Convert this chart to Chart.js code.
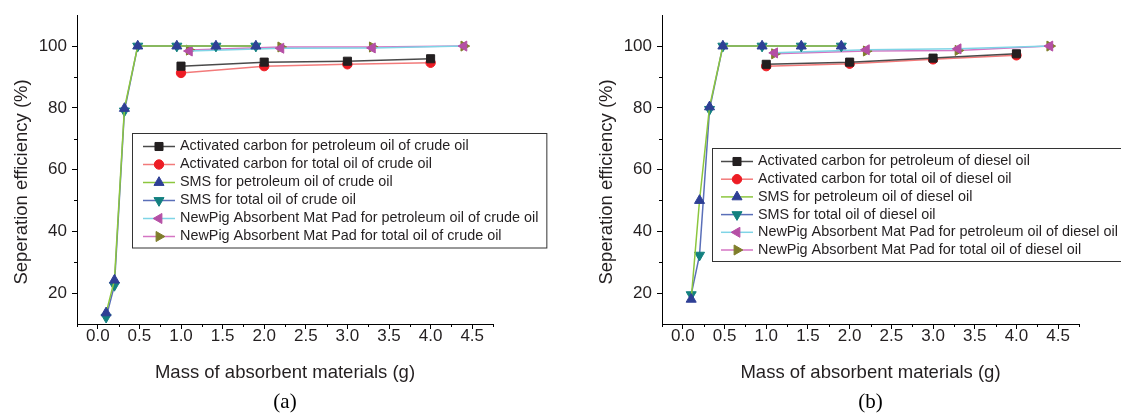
<!DOCTYPE html>
<html>
<head>
<meta charset="utf-8">
<script src="https://cdn.jsdelivr.net/npm/chart.js@4.4.0/dist/chart.umd.min.js"></script>
<style>
body { margin: 0; background: #fff; width: 1121px; height: 415px; overflow: hidden; position: relative; }
canvas { position: absolute; top: 0; }
#chartA { left: 0; }
#chartB { left: 585px; }
</style>
</head>
<body>
<canvas id="chartA" width="585" height="415"></canvas>
<canvas id="chartB" width="536" height="415"></canvas>
<script>
// axis ticks
const xTicks = [0, 0.5, 1, 1.5, 2, 2.5, 3, 3.5, 4, 4.5];
const xMinorTicks = [-0.25, 0.25, 0.75, 1.25, 1.75, 2.25, 2.75, 3.25, 3.75, 4.25, 4.75];
const yTicks = [20, 40, 60, 80, 100];
const yMinorTicks = [30, 50, 70, 90];

// masses (g)
const carbonMass = [1, 2, 3, 4];
const smsMass = [0.1, 0.2, 0.32, 0.48, 0.95, 1.42, 1.9];
const padMass = [1.1, 2.2, 3.3, 4.4];

// (a) crude oil
const carbonPetroA = [93.5, 94.8, 95.1, 95.9];
const carbonTotalA = [91.3, 93.5, 94.1, 94.6];
const smsPetroA = [13.6, 24.2, 79.8, 100, 100, 100, 100];
const smsTotalA = [12.2, 22.5, 79.0, 100, 100, 100, 100];
const padPetroA = [98.4, 99.3, 99.4, 100];
const padTotalA = [98.7, 99.7, 99.7, 100];
const labelsA = [
  'Activated carbon for petroleum oil of crude oil',
  'Activated carbon for total oil of crude oil',
  'SMS for petroleum oil of crude oil',
  'SMS for total oil of crude oil',
  'NewPig Absorbent Mat Pad for petroleum oil of crude oil',
  'NewPig Absorbent Mat Pad for total oil of crude oil'
];

// (b) diesel oil
const carbonPetroB = [94.1, 94.8, 96.1, 97.5];
const carbonTotalB = [93.5, 94.3, 95.7, 97.0];
const smsPetroB = [18.0, 50.0, 80.3, 100, 100, 100, 100];
const smsTotalB = [19.5, 32.3, 79.5, 100, 100, 100, 100];
const padPetroB = [97.8, 98.8, 99.1, 100];
const padTotalB = [97.5, 98.4, 98.6, 100];
const labelsB = [
  'Activated carbon for petroleum of diesel oil',
  'Activated carbon for total oil of diesel oil',
  'SMS for petroleum oil of diesel oil',
  'SMS for total oil of diesel oil',
  'NewPig Absorbent Mat Pad for petroleum oil of diesel oil',
  'NewPig Absorbent Mat Pad for total oil of diesel oil'
];

const yTitle = 'Seperation efficiency (%)';
const xTitle = 'Mass of absorbent materials (g)';

const FONT = "'Liberation Sans', Arial, sans-serif";
const TXT = '#231f20';

function pts(xs, ys) {
  return xs.map((x, i) => ({ x: x, y: ys[i] }));
}

function series(label, xs, ys, line, mark, style, rot, r) {
  return {
    label: label,
    data: pts(xs, ys),
    borderColor: line,
    borderWidth: 1.5,
    backgroundColor: mark,
    pointBackgroundColor: mark,
    pointBorderColor: mark,
    pointBorderWidth: 1,
    pointStyle: style,
    pointRotation: rot,
    pointRadius: r,
    tension: 0,
    fill: false
  };
}

function buildSets(labels, cp, ct, sp, st, pp, pt) {
  return [
    series(labels[0], carbonMass, cp, '#4a4a4a', '#231f20', 'rect', 0, 5.7),
    series(labels[1], carbonMass, ct, '#f27a7a', '#ed1c24', 'circle', 0, 4.7),
    series(labels[2], smsMass, sp, '#8cc63e', '#2e3f95', 'triangle', 0, 5.8),
    series(labels[3], smsMass, st, '#5a6fb8', '#13807f', 'triangle', 180, 5.8),
    series(labels[4], padMass, pp, '#7fd4e6', '#b54fa5', 'triangle', 270, 5.8),
    series(labels[5], padMass, pt, '#d475c3', '#7f7d2a', 'triangle', 90, 5.8)
  ];
}

// minor ticks, y title, boxed legend and panel letter
const decor = {
  id: 'decor',
  afterDraw(chart, args, o) {
    const ctx = chart.ctx;
    const xs = chart.scales.x, ys = chart.scales.y;
    const area = chart.chartArea;
    ctx.save();
    ctx.strokeStyle = '#000';
    ctx.lineWidth = 1;
    ctx.beginPath();
    xMinorTicks.forEach(v => {
      const px = Math.round(xs.getPixelForValue(v)) + 0.5;
      ctx.moveTo(px, area.bottom);
      ctx.lineTo(px, area.bottom + 3);
    });
    yMinorTicks.forEach(v => {
      const py = Math.round(ys.getPixelForValue(v)) + 0.5;
      ctx.moveTo(area.left, py);
      ctx.lineTo(area.left - 3, py);
    });
    ctx.stroke();

    // y axis title
    ctx.save();
    ctx.translate(22, ys.getPixelForValue(56));
    ctx.rotate(-Math.PI / 2);
    ctx.fillStyle = TXT;
    ctx.font = '18.5px ' + FONT;
    ctx.textAlign = 'center';
    ctx.textBaseline = 'middle';
    ctx.fillText(yTitle, 0, 0);
    ctx.restore();

    // legend
    const sets = chart.data.datasets;
    ctx.font = '14.4px ' + FONT;
    let w = 0;
    sets.forEach(d => { w = Math.max(w, ctx.measureText(d.label).width); });
    const bx = o.x, by = o.y;
    const bw = o.textX + w + 8;
    const bh = o.first + o.rowH * (sets.length - 1) + 11;
    ctx.strokeStyle = '#333';
    ctx.strokeRect(bx + 0.5, by + 0.5, bw, bh);
    sets.forEach((d, i) => {
      const cy = by + o.first + i * o.rowH;
      ctx.strokeStyle = d.borderColor;
      ctx.lineWidth = 1.5;
      ctx.beginPath();
      ctx.moveTo(bx + o.lineX0, cy);
      ctx.lineTo(bx + o.lineX1, cy);
      ctx.stroke();
      ctx.fillStyle = d.pointBackgroundColor;
      ctx.strokeStyle = d.pointBorderColor;
      ctx.lineWidth = 1;
      Chart.helpers.drawPoint(ctx, {
        pointStyle: d.pointStyle, rotation: d.pointRotation,
        radius: d.pointRadius, borderWidth: 1
      }, bx + (o.lineX0 + o.lineX1) / 2, cy);
      ctx.fillStyle = TXT;
      ctx.textAlign = 'left';
      ctx.textBaseline = 'middle';
      ctx.fillText(d.label, bx + o.textX, cy);
    });

    // panel letter
    ctx.fillStyle = '#000';
    ctx.font = "21px 'Liberation Serif', 'Times New Roman', serif";
    ctx.textAlign = 'center';
    ctx.textBaseline = 'middle';
    ctx.fillText(o.letter, (area.left + area.right) / 2, 402);
    ctx.restore();
  }
};

function makeChart(id, sets, rightPad, legend) {
  return new Chart(document.getElementById(id), {
    type: 'line',
    data: { datasets: sets },
    plugins: [decor],
    options: {
      responsive: false,
      animation: false,
      layout: { padding: { left: 0, top: 14, right: rightPad, bottom: 30 } },
      plugins: {
        legend: { display: false },
        tooltip: { enabled: false },
        decor: legend
      },
      scales: {
        x: {
          type: 'linear',
          min: -0.25,
          max: 4.75,
          afterBuildTicks: s => { s.ticks = xTicks.map(v => ({ value: v })); },
          afterFit: s => { s.height = 61; },
          border: { display: true, color: '#000', width: 1 },
          grid: { drawOnChartArea: false, tickLength: 5, color: '#000' },
          ticks: {
            autoSkip: false, maxRotation: 0, padding: -3,
            color: TXT, font: { family: FONT, size: 17 },
            callback: v => Number(v).toFixed(1)
          },
          title: {
            display: true, text: xTitle,
            color: TXT, font: { family: FONT, size: 18.5 },
            padding: { top: 0, bottom: 1 }
          }
        },
        y: {
          type: 'linear',
          min: 10,
          max: 110,
          afterBuildTicks: s => { s.ticks = yTicks.map(v => ({ value: v })); },
          afterFit: s => { s.width = 77; },
          border: { display: true, color: '#000', width: 1 },
          grid: { drawOnChartArea: false, tickLength: 5, color: '#000' },
          ticks: {
            autoSkip: false, padding: 5,
            color: TXT, font: { family: FONT, size: 17 },
            callback: v => String(v)
          }
        }
      }
    }
  });
}

makeChart('chartA', buildSets(labelsA, carbonPetroA, carbonTotalA, smsPetroA, smsTotalA, padPetroA, padTotalA), 92,
  { x: 132, y: 133, first: 13.5, rowH: 18, lineX0: 11, lineX1: 43, textX: 48, letter: '(a)' });
makeChart('chartB', buildSets(labelsB, carbonPetroB, carbonTotalB, smsPetroB, smsTotalB, padPetroB, padTotalB), 42,
  { x: 127, y: 148, first: 13.5, rowH: 17.7, lineX0: 9, lineX1: 41, textX: 46, letter: '(b)' });
</script>
</body>
</html>
